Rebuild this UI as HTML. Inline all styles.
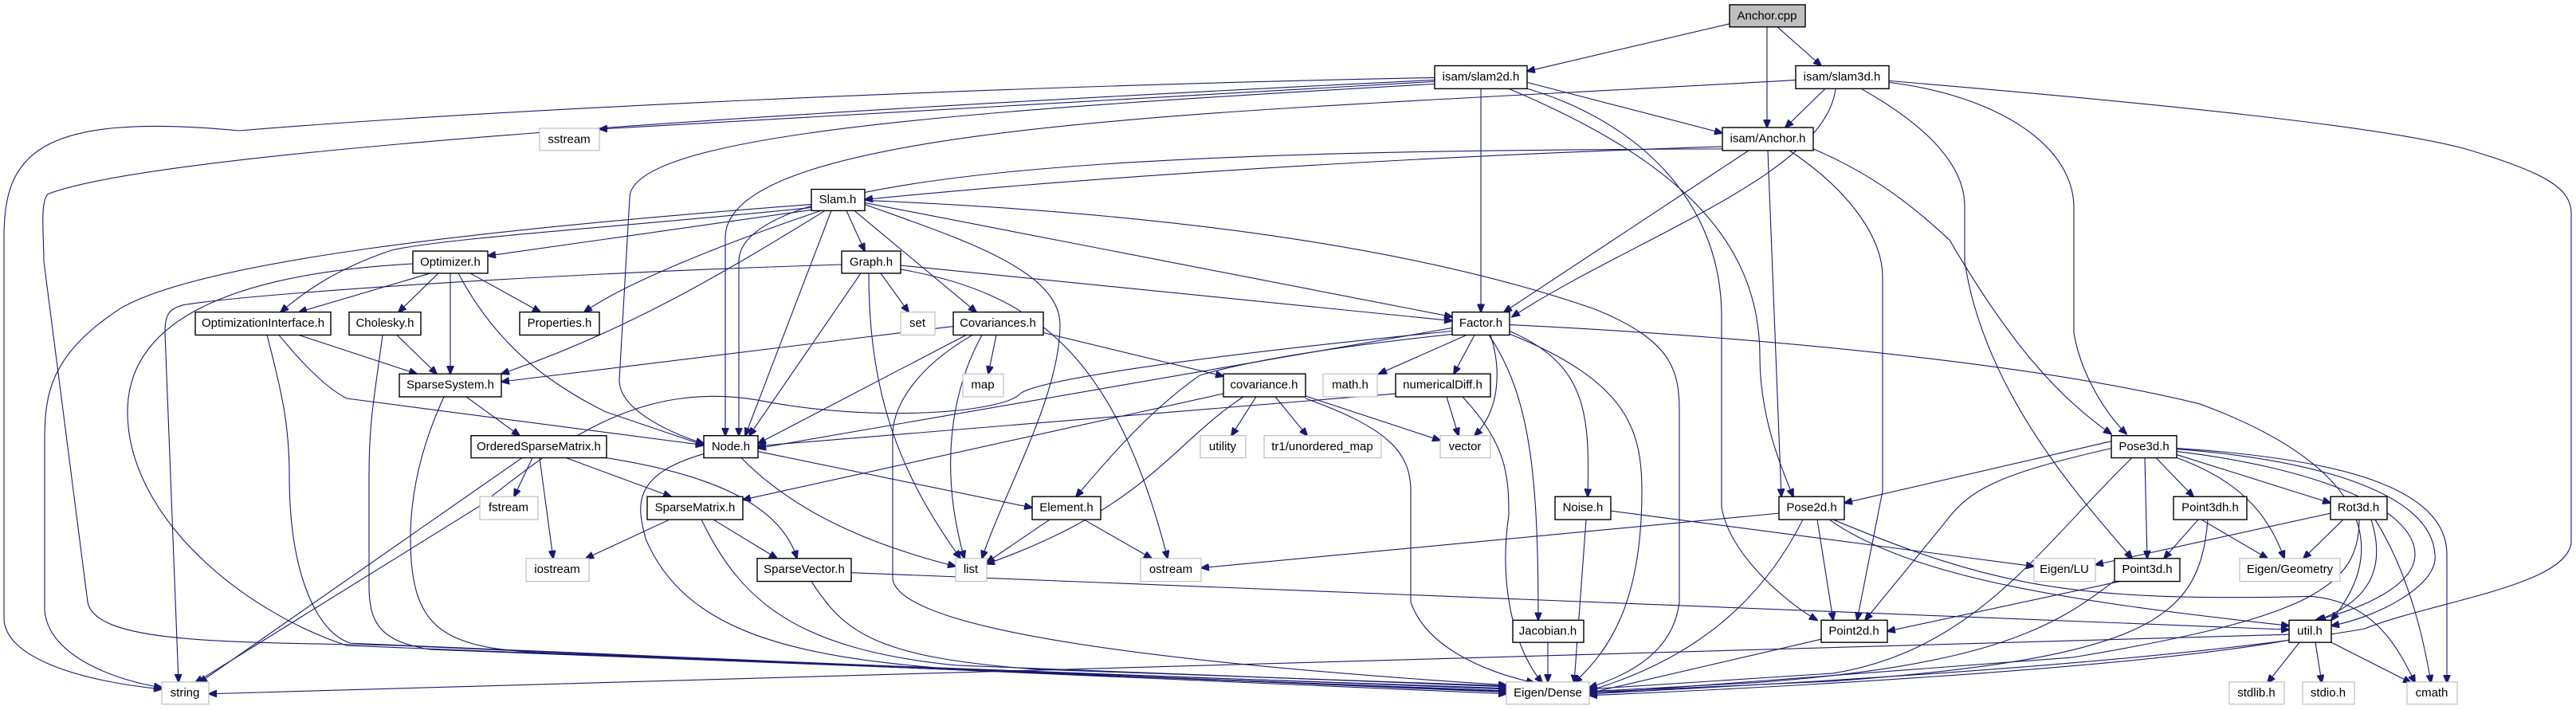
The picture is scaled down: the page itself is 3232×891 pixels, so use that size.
<!DOCTYPE html>
<html><head><meta charset="utf-8"><style>
html,body{margin:0;padding:0;background:#fff}
svg{display:block}
text{font-family:"Liberation Sans",sans-serif;font-size:15px;text-anchor:middle;dominant-baseline:central;fill:#000}
.n{fill:#fff;stroke:#000;stroke-width:1.4}
.g{fill:#fff;stroke:#bfbfbf;stroke-width:1.2}
.e path{fill:none;stroke:#191970;stroke-width:1.1}
</style></head><body>
<svg width="3232" height="891" viewBox="0 0 3232 891" xmlns="http://www.w3.org/2000/svg">
<defs><marker id="a" markerWidth="11" markerHeight="9" refX="10" refY="4.5" orient="auto" markerUnits="userSpaceOnUse"><path d="M0,0 L11,4.5 L0,9 z" fill="#191970" stroke="#191970"/></marker></defs>
<g transform="scale(1,0.994)">
<g class="e">
<path d="M2170,30 L1916,90" marker-end="url(#a)"/>
<path d="M2217,34 L2217,161" marker-end="url(#a)"/>
<path d="M2230,34 L2285,83" marker-end="url(#a)"/>
<path d="M1800,98 C1200,110 600,140 300,165 C40,140 5,200 5,300 L5,780 C5,830 100,860 203,870" marker-end="url(#a)"/>
<path d="M1800,101 C1000,140 200,190 60,245 C50,255 55,300 55,330 L110,760 C120,815 300,810 500,815 L1890,876" marker-end="url(#a)"/>
<path d="M1800,103 L752,163" marker-end="url(#a)"/>
<path d="M1800,106 C1200,140 790,170 790,250 L777,480 C777,520 850,550 883,560" marker-end="url(#a)"/>
<path d="M1858,112 L1858,394" marker-end="url(#a)"/>
<path d="M1916,104 L2161,168" marker-end="url(#a)"/>
<path d="M1893,112 C2100,200 2208,300 2208,450 C2208,520 2230,580 2250,627" marker-end="url(#a)"/>
<path d="M1910,110 C2050,150 2160,250 2160,400 L2160,640 C2170,700 2240,760 2280,783" marker-end="url(#a)"/>
<path d="M2290,112 L2240,161" marker-end="url(#a)"/>
<path d="M2253,101 C1600,140 910,150 910,300 L910,550" marker-end="url(#a)"/>
<path d="M2303,112 C2290,220 2050,300 1897,400" marker-end="url(#a)"/>
<path d="M2335,112 C2420,160 2465,210 2465,260 L2465,330 C2490,500 2620,640 2675,705" marker-end="url(#a)"/>
<path d="M2370,104 C2500,120 2600,180 2602,260 L2602,420 C2610,470 2640,520 2668,548" marker-end="url(#a)"/>
<path d="M2370,102 C2700,130 3000,160 3100,190 C3200,220 3226,240 3226,270 L3226,685 C3220,740 3050,760 2966,794 C2700,840 2200,865 1994,876" marker-end="url(#a)"/>
<path d="M2161,185 C1700,200 1300,230 1085,252" marker-end="url(#a)"/>
<path d="M2161,188 C1600,190 927,200 927,330 L927,550" marker-end="url(#a)"/>
<path d="M2194,190 L1887,394" marker-end="url(#a)"/>
<path d="M2218,190 L2235,627" marker-end="url(#a)"/>
<path d="M2245,190 C2320,240 2362,300 2362,350 L2362,620 L2330,783" marker-end="url(#a)"/>
<path d="M2275,188 C2350,220 2400,260 2446,303 C2520,430 2580,500 2649,548" marker-end="url(#a)"/>
<path d="M1018,258 C600,290 250,330 150,390 C60,450 56,500 56,560 L56,770 C60,830 150,860 203,868" marker-end="url(#a)"/>
<path d="M1018,262 C800,285 560,300 491,316 C420,340 380,370 352,394" marker-end="url(#a)"/>
<path d="M1018,265 L612,323" marker-end="url(#a)"/>
<path d="M1030,266 C900,310 780,360 733,394" marker-end="url(#a)"/>
<path d="M1035,266 C900,350 780,420 629,472" marker-end="url(#a)"/>
<path d="M1043,266 L935,550" marker-end="url(#a)"/>
<path d="M1062,266 L1085,317" marker-end="url(#a)"/>
<path d="M1072,266 L1225,394" marker-end="url(#a)"/>
<path d="M1085,258 C1200,300 1330,340 1330,410 C1330,500 1260,620 1232,705" marker-end="url(#a)"/>
<path d="M1085,256 L1822,400" marker-end="url(#a)"/>
<path d="M1085,253 C1500,270 1800,320 2000,390 C2100,430 2107,470 2107,520 L2107,760 C2100,820 2050,850 1994,868" marker-end="url(#a)"/>
<path d="M518,333 C300,345 160,400 160,520 C160,650 300,770 435,815 L1890,873" marker-end="url(#a)"/>
<path d="M540,345 L375,394" marker-end="url(#a)"/>
<path d="M550,345 L500,394" marker-end="url(#a)"/>
<path d="M565,345 L565,472" marker-end="url(#a)"/>
<path d="M590,345 L678,394" marker-end="url(#a)"/>
<path d="M575,345 C620,430 680,480 760,520 L883,562" marker-end="url(#a)"/>
<path d="M1056,334 C700,345 320,370 230,385 C210,390 207,400 207,420 L224,861" marker-end="url(#a)"/>
<path d="M1105,345 L1140,394" marker-end="url(#a)"/>
<path d="M1090,345 C1090,500 1130,600 1205,705" marker-end="url(#a)"/>
<path d="M1080,345 L940,550" marker-end="url(#a)"/>
<path d="M1130,335 L1822,405" marker-end="url(#a)"/>
<path d="M1130,340 C1300,370 1400,450 1465,705" marker-end="url(#a)"/>
<path d="M375,423 L523,472" marker-end="url(#a)"/>
<path d="M350,423 C380,460 410,490 435,503 L883,562" marker-end="url(#a)"/>
<path d="M335,423 C355,500 363,540 363,600 C363,730 400,800 440,812 L1890,874" marker-end="url(#a)"/>
<path d="M498,423 L548,472" marker-end="url(#a)"/>
<path d="M480,423 C470,500 463,530 463,600 L463,740 C463,790 480,810 540,820 L1890,872" marker-end="url(#a)"/>
<path d="M585,501 L652,550" marker-end="url(#a)"/>
<path d="M557,501 C530,560 515,620 515,680 C515,800 560,820 700,825 L1890,870" marker-end="url(#a)"/>
<path d="M668,578 L645,627" marker-end="url(#a)"/>
<path d="M677,578 L694,705" marker-end="url(#a)"/>
<path d="M655,578 L250,862" marker-end="url(#a)"/>
<path d="M710,578 L842,627" marker-end="url(#a)"/>
<path d="M760,578 C900,600 980,640 1000,705" marker-end="url(#a)"/>
<path d="M951,570 L1295,641" marker-end="url(#a)"/>
<path d="M930,578 C1000,650 1100,690 1199,715" marker-end="url(#a)"/>
<path d="M883,573 C790,600 800,640 810,680 C860,800 1000,830 1200,845 L1890,869" marker-end="url(#a)"/>
<path d="M840,656 L735,705" marker-end="url(#a)"/>
<path d="M895,656 L975,705" marker-end="url(#a)"/>
<path d="M880,656 C930,760 1000,820 1200,840 L1890,867" marker-end="url(#a)"/>
<path d="M1018,734 C1060,800 1100,830 1300,845 L1890,866" marker-end="url(#a)"/>
<path d="M1068,723 L2872,795" marker-end="url(#a)"/>
<path d="M1250,423 L1240,472" marker-end="url(#a)"/>
<path d="M1196,412 L629,482" marker-end="url(#a)"/>
<path d="M1212,423 L951,560" marker-end="url(#a)"/>
<path d="M1232,423 C1190,500 1180,600 1210,705" marker-end="url(#a)"/>
<path d="M1309,420 L1535,475" marker-end="url(#a)"/>
<path d="M1220,423 C1140,470 1120,520 1120,550 L1120,731 C1130,800 1500,840 1890,865" marker-end="url(#a)"/>
<path d="M1822,414 L951,566" marker-end="url(#a)"/>
<path d="M1822,418 C1500,450 1300,480 1280,497 C1260,520 1100,535 950,505 C800,480 700,560 600,640 L245,862" marker-end="url(#a)"/>
<path d="M1822,422 C1650,440 1550,460 1505,474 C1440,520 1390,580 1350,627" marker-end="url(#a)"/>
<path d="M1840,423 L1730,472" marker-end="url(#a)"/>
<path d="M1850,423 L1824,472" marker-end="url(#a)"/>
<path d="M1870,423 C1885,470 1880,520 1850,550" marker-end="url(#a)"/>
<path d="M1868,423 C1920,500 1930,600 1930,783" marker-end="url(#a)"/>
<path d="M1894,418 C1990,460 1995,520 1992,627" marker-end="url(#a)"/>
<path d="M1890,420 C2040,480 2060,540 2060,620 C2060,760 2020,820 1975,862" marker-end="url(#a)"/>
<path d="M1894,410 C2300,430 2600,470 2760,510 C2950,580 3010,680 2925,783" marker-end="url(#a)"/>
<path d="M1576,501 L1545,550" marker-end="url(#a)"/>
<path d="M1600,501 L1640,550" marker-end="url(#a)"/>
<path d="M1638,500 L1807,556" marker-end="url(#a)"/>
<path d="M1560,501 C1470,560 1440,640 1238,712" marker-end="url(#a)"/>
<path d="M1638,503 C1740,540 1770,570 1770,620 L1770,760 C1790,820 1870,850 1925,862" marker-end="url(#a)"/>
<path d="M1535,497 L932,631" marker-end="url(#a)"/>
<path d="M1815,501 L1830,550" marker-end="url(#a)"/>
<path d="M1751,497 L951,563" marker-end="url(#a)"/>
<path d="M1835,501 C1890,560 1893,600 1893,650 C1880,740 1900,820 1935,862" marker-end="url(#a)"/>
<path d="M1317,656 L1238,710" marker-end="url(#a)"/>
<path d="M1360,656 L1445,705" marker-end="url(#a)"/>
<path d="M1990,656 L1975,862" marker-end="url(#a)"/>
<path d="M2021,645 L2552,715" marker-end="url(#a)"/>
<path d="M1942,811 L1942,861" marker-end="url(#a)"/>
<path d="M2232,648 L1507,717" marker-end="url(#a)"/>
<path d="M2280,656 L2300,783" marker-end="url(#a)"/>
<path d="M2262,656 C2200,780 2100,840 1994,872" marker-end="url(#a)"/>
<path d="M2295,656 C2400,730 2600,760 2872,790" marker-end="url(#a)"/>
<path d="M2300,656 C2500,740 2600,760 2900,753 C2980,760 3010,820 3030,862" marker-end="url(#a)"/>
<path d="M2649,557 L2314,635" marker-end="url(#a)"/>
<path d="M2705,578 L2752,627" marker-end="url(#a)"/>
<path d="M2731,574 L2924,635" marker-end="url(#a)"/>
<path d="M2691,578 L2694,705" marker-end="url(#a)"/>
<path d="M2649,566 C2500,600 2470,620 2440,660 L2340,783" marker-end="url(#a)"/>
<path d="M2675,578 C2560,690 2480,820 2300,850 L1994,870" marker-end="url(#a)"/>
<path d="M2731,578 C2820,610 2850,660 2866,705" marker-end="url(#a)"/>
<path d="M2731,570 C2900,590 3030,640 3030,700 C3030,740 2960,770 2905,783" marker-end="url(#a)"/>
<path d="M2731,567 C2900,580 3050,620 3055,700 C3060,740 2980,780 2925,790" marker-end="url(#a)"/>
<path d="M2731,566 C2950,580 3070,620 3070,700 L3070,862" marker-end="url(#a)"/>
<path d="M2758,656 L2715,705" marker-end="url(#a)"/>
<path d="M2762,656 L2845,705" marker-end="url(#a)"/>
<path d="M2770,656 C2760,780 2700,830 2300,860 L1994,874" marker-end="url(#a)"/>
<path d="M2924,648 L2629,713" marker-end="url(#a)"/>
<path d="M2940,656 L2890,705" marker-end="url(#a)"/>
<path d="M2975,656 C2995,720 2970,760 2908,783" marker-end="url(#a)"/>
<path d="M2980,656 C3020,720 3040,800 3050,862" marker-end="url(#a)"/>
<path d="M2960,656 C2960,740 2900,780 2600,830 L1994,876" marker-end="url(#a)"/>
<path d="M2660,734 L2368,797" marker-end="url(#a)"/>
<path d="M2652,734 C2580,790 2500,840 2200,862 L1994,873" marker-end="url(#a)"/>
<path d="M2285,807 L1994,875" marker-end="url(#a)"/>
<path d="M2885,811 L2845,862" marker-end="url(#a)"/>
<path d="M2905,811 L2913,862" marker-end="url(#a)"/>
<path d="M2925,811 L3025,862" marker-end="url(#a)"/>
<path d="M2872,808 C2700,840 2300,865 1994,878" marker-end="url(#a)"/>
<path d="M2872,801 L262,876" marker-end="url(#a)"/>
</g>
<rect x="2170" y="6" width="95" height="28" fill="#bfbfbf" stroke="#000" stroke-width="1.4"/><text x="2217" y="20">Anchor.cpp</text>
<rect class="n" x="1800" y="83" width="116" height="29"/><text x="1858" y="97">isam/slam2d.h</text>
<rect class="n" x="2253" y="83" width="117" height="29"/><text x="2311" y="97">isam/slam3d.h</text>
<rect class="n" x="2161" y="161" width="114" height="29"/><text x="2218" y="175">isam/Anchor.h</text>
<rect class="g" x="677" y="162" width="75" height="28"/><text x="714" y="176">sstream</text>
<rect class="n" x="1018" y="239" width="67" height="27"/><text x="1051" y="252">Slam.h</text>
<rect class="n" x="518" y="317" width="94" height="28"/><text x="565" y="331">Optimizer.h</text>
<rect class="n" x="1056" y="317" width="74" height="28"/><text x="1093" y="331">Graph.h</text>
<rect class="n" x="245" y="394" width="170" height="29"/><text x="330" y="408">OptimizationInterface.h</text>
<rect class="n" x="438" y="394" width="90" height="29"/><text x="483" y="408">Cholesky.h</text>
<rect class="n" x="652" y="394" width="100" height="29"/><text x="702" y="408">Properties.h</text>
<rect class="g" x="1130" y="394" width="43" height="29"/><text x="1151" y="408">set</text>
<rect class="n" x="1196" y="394" width="113" height="29"/><text x="1252" y="408">Covariances.h</text>
<rect class="n" x="1822" y="394" width="72" height="29"/><text x="1858" y="408">Factor.h</text>
<rect class="n" x="501" y="472" width="128" height="29"/><text x="565" y="486">SparseSystem.h</text>
<rect class="g" x="1208" y="472" width="51" height="29"/><text x="1233" y="486">map</text>
<rect class="n" x="1535" y="472" width="103" height="29"/><text x="1586" y="486">covariance.h</text>
<rect class="g" x="1660" y="472" width="68" height="29"/><text x="1694" y="486">math.h</text>
<rect class="n" x="1751" y="472" width="119" height="29"/><text x="1810" y="486">numericalDiff.h</text>
<rect class="n" x="591" y="550" width="170" height="28"/><text x="676" y="564">OrderedSparseMatrix.h</text>
<rect class="n" x="883" y="550" width="68" height="28"/><text x="917" y="564">Node.h</text>
<rect class="g" x="1506" y="550" width="57" height="28"/><text x="1534" y="564">utility</text>
<rect class="g" x="1586" y="550" width="147" height="28"/><text x="1659" y="564">tr1/unordered_map</text>
<rect class="g" x="1807" y="550" width="63" height="28"/><text x="1838" y="564">vector</text>
<rect class="n" x="2649" y="550" width="82" height="28"/><text x="2690" y="564">Pose3d.h</text>
<rect class="g" x="602" y="627" width="73" height="29"/><text x="638" y="641">fstream</text>
<rect class="n" x="812" y="627" width="120" height="29"/><text x="872" y="641">SparseMatrix.h</text>
<rect class="n" x="1295" y="627" width="86" height="29"/><text x="1338" y="641">Element.h</text>
<rect class="n" x="1951" y="627" width="70" height="29"/><text x="1986" y="641">Noise.h</text>
<rect class="n" x="2232" y="627" width="82" height="29"/><text x="2273" y="641">Pose2d.h</text>
<rect class="n" x="2727" y="627" width="92" height="29"/><text x="2773" y="641">Point3dh.h</text>
<rect class="n" x="2924" y="627" width="71" height="29"/><text x="2959" y="641">Rot3d.h</text>
<rect class="g" x="660" y="705" width="79" height="29"/><text x="699" y="719">iostream</text>
<rect class="n" x="950" y="705" width="118" height="29"/><text x="1009" y="719">SparseVector.h</text>
<rect class="g" x="1199" y="705" width="39" height="29"/><text x="1218" y="719">list</text>
<rect class="g" x="1431" y="705" width="76" height="29"/><text x="1469" y="719">ostream</text>
<rect class="g" x="2552" y="705" width="77" height="29"/><text x="2590" y="719">Eigen/LU</text>
<rect class="n" x="2653" y="705" width="82" height="29"/><text x="2694" y="719">Point3d.h</text>
<rect class="g" x="2810" y="705" width="126" height="29"/><text x="2873" y="719">Eigen/Geometry</text>
<rect class="n" x="1898" y="783" width="89" height="28"/><text x="1942" y="797">Jacobian.h</text>
<rect class="n" x="2285" y="783" width="83" height="28"/><text x="2326" y="797">Point2d.h</text>
<rect class="n" x="2872" y="783" width="53" height="28"/><text x="2898" y="797">util.h</text>
<rect class="g" x="203" y="861" width="59" height="28"/><text x="232" y="875">string</text>
<rect class="g" x="1890" y="861" width="104" height="28"/><text x="1942" y="875">Eigen/Dense</text>
<rect class="g" x="2797" y="861" width="69" height="28"/><text x="2831" y="875">stdlib.h</text>
<rect class="g" x="2889" y="861" width="65" height="28"/><text x="2921" y="875">stdio.h</text>
<rect class="g" x="3020" y="861" width="63" height="28"/><text x="3051" y="875">cmath</text>
</g>
</svg>
</body></html>
